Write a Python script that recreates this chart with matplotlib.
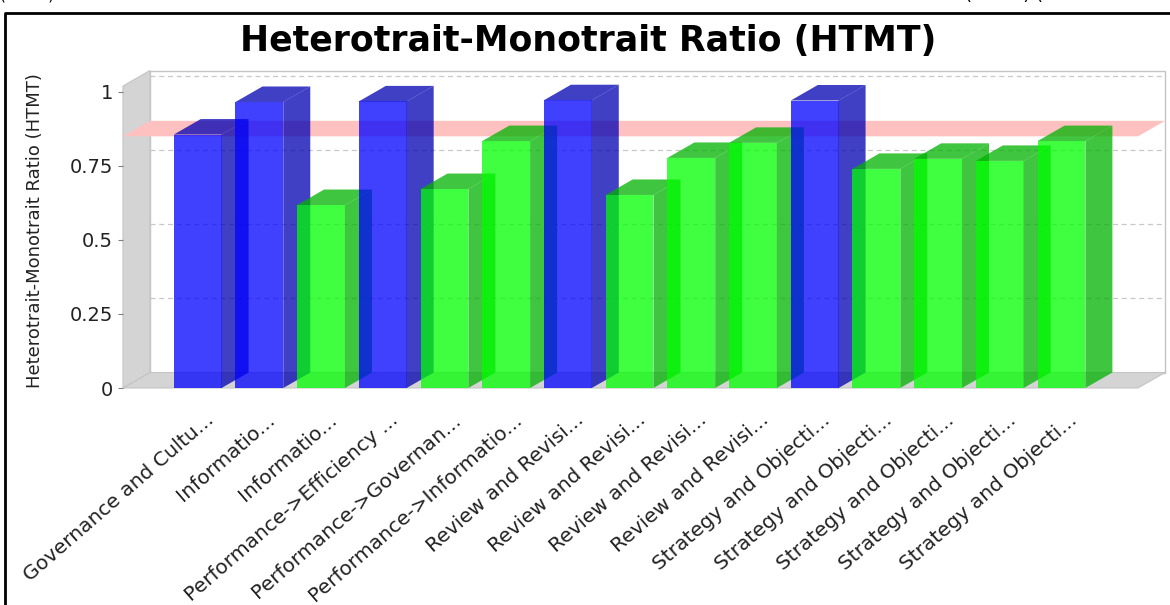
import matplotlib
matplotlib.use("Agg")
import matplotlib.pyplot as plt
from matplotlib.patches import Polygon, Rectangle
from matplotlib.lines import Line2D

plt.rcParams["font.family"] = ["DejaVu Sans"]

# HTMT values per construct pair
labels = [
    "Governance and Cultu...",
    "Informatio...",
    "Informatio...",
    "Performance->Efficiency ...",
    "Performance->Governan...",
    "Performance->Informatio...",
    "Review and Revisi...",
    "Review and Revisi...",
    "Review and Revisi...",
    "Review and Revisi...",
    "Strategy and Objecti...",
    "Strategy and Objecti...",
    "Strategy and Objecti...",
    "Strategy and Objecti...",
    "Strategy and Objecti...",
]
values = [0.856, 0.966, 0.618, 0.968, 0.672, 0.834, 0.972, 0.652,
          0.777, 0.828, 0.971, 0.740, 0.774, 0.767, 0.834]
threshold = 0.85
yticks = [0, 0.25, 0.5, 0.75, 1]
ytick_labels = ["0", "0.25", "0.5", "0.75", "1"]
title = "Heterotrait-Monotrait Ratio (HTMT)"

W, H = 1170, 605
fig = plt.figure(figsize=(W / 100, H / 100), dpi=100)
fig.patch.set_facecolor("white")

# front face of the plot box, in pixels
left_px, right_px, base_px, top_px = 123, 1138, 388, 86
ax = fig.add_axes([left_px / W, (H - base_px) / H,
                   (right_px - left_px) / W, (base_px - top_px) / H])
ax.set_xlim(-1.21, len(values) - 1 + 1.24)
ax.set_ylim(0, 1.02)
ax.patch.set_visible(False)
for s in ax.spines.values():
    s.set_visible(False)

# 3d depth offset
DX, DY = 27, 15.5
dxa = DX / (right_px - left_px)
dya = DY / (base_px - top_px)
x0, x1 = ax.get_xlim()
y0, y1 = ax.get_ylim()
dxd = dxa * (x1 - x0)
dyd = dya * (y1 - y0)

wall = "#D4D4D4"
# back wall, left wall, floor
ax.add_patch(Rectangle((dxa, dya), 1, 1, transform=ax.transAxes, fc="white",
                       ec="#C4C4C4", lw=1, clip_on=False, zorder=0))
ax.add_patch(Polygon([(0, 0), (dxa, dya), (dxa, 1 + dya), (0, 1)],
                     transform=ax.transAxes, fc=wall, ec="#C4C4C4", lw=0.8,
                     clip_on=False, zorder=0.5))
ax.add_patch(Polygon([(0, 0), (1, 0), (1 + dxa, dya), (dxa, dya)],
                     transform=ax.transAxes, fc=wall, ec="#C4C4C4", lw=0.8,
                     clip_on=False, zorder=0.5))

# dashed gridlines on the back wall
ytr = ax.get_yaxis_transform()
for t in yticks[1:]:
    ax.plot([dxa, 1 + dxa], [t + dyd, t + dyd], transform=ytr, color="#C8C8C8",
            lw=0.9, dashes=(4, 3), clip_on=False, zorder=1)

# threshold marker plane
ax.add_patch(Polygon([(0, threshold), (dxa, threshold + dyd),
                      (1 + dxa, threshold + dyd), (1, threshold)],
                     transform=ytr, fc="#FFC0C0", ec="none", clip_on=False,
                     zorder=2))

# 3d bars
w = 0.775
for i, v in enumerate(values):
    if v > threshold:
        face, dark = "#0000FF", "#0000B2"
    else:
        face, dark = "#00FF00", "#00B200"
    l, r = i - w / 2, i + w / 2
    z = 3 + i * 0.01
    ax.add_patch(Rectangle((l, 0), w, v, fc=face, ec="none", alpha=0.75,
                           zorder=z, clip_on=False))
    ax.add_patch(Polygon([(l, v), (r, v), (r + dxd, v + dyd), (l + dxd, v + dyd)],
                         fc=dark, ec="none", alpha=0.75, zorder=z, clip_on=False))
    ax.add_patch(Polygon([(r, 0), (r + dxd, dyd), (r + dxd, v + dyd), (r, v)],
                         fc=dark, ec="none", alpha=0.75, zorder=z, clip_on=False))

ax.set_xticks([])
ax.set_yticks(yticks)
ax.set_yticklabels(ytick_labels)
ax.tick_params(axis="y", length=3.6, width=0.8, color="#808080", pad=3.6,
               labelsize=14, labelcolor="#222222")

for i, lbl in enumerate(labels):
    ax.annotate(lbl, xy=(i, 0), xycoords=("data", "axes fraction"),
                xytext=(14, -16), textcoords="offset points", rotation=41,
                ha="right", va="top", fontsize=14.5, color="#222222")

fig.text(35 / W, 1 - 231 / H, "Heterotrait-Monotrait Ratio (HTMT)",
         rotation=90, ha="center", va="center", fontsize=13, color="#222222")
fig.text(588 / W, 1 - 41 / H, title, ha="center", va="center",
         fontsize=25, fontweight="bold", color="black")

# chart frame
fig.add_artist(Line2D([5 / W, 5 / W, 1.0], [0.0, 1 - 13 / H, 1 - 13 / H],
                      transform=fig.transFigure, color="black", lw=2))

# text lines cut off above the chart
fig.text(0.0, 1 + 5 / H, "(HTMT)", ha="left", va="center", fontsize=11)
fig.text(965 / W, 1 + 5 / H, "(HTMT) (", ha="left", va="center", fontsize=13)

fig.savefig("out.png", dpi=100)
